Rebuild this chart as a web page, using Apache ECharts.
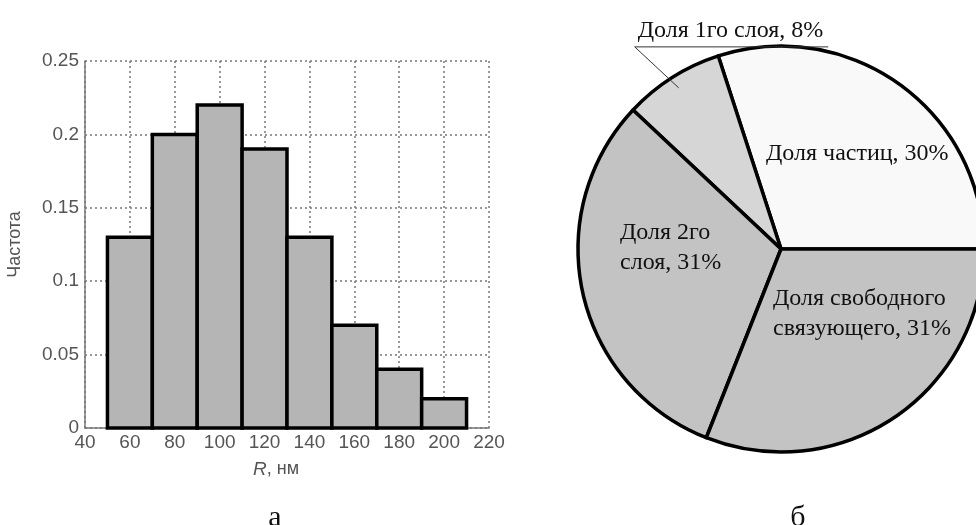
<!DOCTYPE html>
<html>
<head>
<meta charset="utf-8">
<script src="https://cdn.jsdelivr.net/npm/echarts@6/dist/echarts.min.js"></script>
<style>
  html, body { margin: 0; padding: 0; background: #ffffff; }
  #chart { width: 976px; height: 525px; }
</style>
</head>
<body>
<div id="chart"></div>
<script>
// (а) histogram of particle radius R, nm
const binStarts = [50, 70, 90, 110, 130, 150, 170, 190];
const binWidth = 20;
const frequencies = [0.13, 0.20, 0.22, 0.19, 0.13, 0.07, 0.04, 0.02];
const radiusAxis = { min: 40, max: 220, interval: 20 };
const freqAxis = { min: 0, max: 0.25, interval: 0.05 };

// (б) volume shares of the composite components
const shareNames = ['Доля частиц', 'Доля 1го слоя', 'Доля 2го\nслоя', 'Доля свободного\nсвязующего'];
const sharePercents = [30, 8, 31, 31];
const shareColors = ['#f9f9f9', '#d6d6d6', '#c3c3c3', '#c3c3c3'];

// pie geometry and label placement (px)
const pieCenter = [781, 249];
const pieRadius = 203;
const insideLabelOffsets = { 0: [-15, -95], 2: [-161, -1], 3: [-8, 65] };

const chart = echarts.init(document.getElementById('chart'), null, { renderer: 'canvas' });

const histData = binStarts.map((s, i) => [s, s + binWidth, frequencies[i]]);
const tickFont = { fontFamily: 'Liberation Sans', fontSize: 19, color: '#555' };

// shared pie layout; the second copy only carries the labels so they sit above every sector
const pieBase = {
  type: 'pie',
  center: pieCenter,
  radius: pieRadius,
  startAngle: 0,
  clockwise: false,
  avoidLabelOverlap: false,
  emphasis: { disabled: true },
  silent: true
};

const option = {
  animation: false,
  backgroundColor: '#ffffff',
  title: [
    { text: 'а', left: 270, top: 498, textAlign: 'center',
      textStyle: { fontFamily: 'Liberation Serif', fontSize: 30, fontWeight: 'normal', color: '#111' } },
    { text: 'б', left: 793, top: 498, textAlign: 'center',
      textStyle: { fontFamily: 'Liberation Serif', fontSize: 30, fontWeight: 'normal', color: '#111' } }
  ],
  grid: { left: 85, right: 487, top: 61, bottom: 97, containLabel: false },
  xAxis: {
    type: 'value',
    min: radiusAxis.min, max: radiusAxis.max, interval: radiusAxis.interval,
    name: '{i|R}, нм',
    nameLocation: 'middle',
    nameGap: 32,
    nameTextStyle: {
      fontFamily: 'Liberation Sans', fontSize: 18, color: '#555',
      padding: [0, 22, 0, 0],
      rich: { i: { fontFamily: 'Liberation Sans', fontSize: 19, color: '#555', fontStyle: 'italic' } }
    },
    axisLine: { show: true, lineStyle: { color: '#777', width: 1.5 } },
    axisTick: { show: false },
    axisLabel: Object.assign({ margin: 5 }, tickFont),
    splitLine: { show: true, lineStyle: { color: '#777', type: [2, 3], width: 1.5 } }
  },
  yAxis: {
    type: 'value',
    min: freqAxis.min, max: freqAxis.max, interval: freqAxis.interval,
    name: 'Частота',
    nameLocation: 'middle',
    nameRotate: 90,
    nameGap: 61,
    nameTextStyle: { fontFamily: 'Liberation Sans', fontSize: 18, color: '#555' },
    axisLine: { show: true, lineStyle: { color: '#777', width: 1.5 } },
    axisTick: { show: false },
    axisLabel: Object.assign({ margin: 6 }, tickFont),
    splitLine: { show: true, lineStyle: { color: '#777', type: [2, 3], width: 1.5 } }
  },
  series: [
    {
      type: 'custom',
      data: histData,
      encode: { x: [0, 1], y: 2 },
      renderItem: function (params, api) {
        const topLeft = api.coord([api.value(0), api.value(2)]);
        const bottomRight = api.coord([api.value(1), 0]);
        return {
          type: 'rect',
          shape: {
            x: topLeft[0], y: topLeft[1],
            width: bottomRight[0] - topLeft[0],
            height: bottomRight[1] - topLeft[1]
          },
          style: { fill: '#b5b5b5', stroke: '#000', lineWidth: 3.5 }
        };
      },
      z: 3
    },
    Object.assign({}, pieBase, {
      itemStyle: { borderColor: '#000', borderWidth: 3.5 },
      label: { show: false },
      labelLine: { show: false },
      data: shareNames.map((name, i) => ({
        name: name,
        value: sharePercents[i],
        itemStyle: { color: shareColors[i] }
      })),
      z: 2
    }),
    Object.assign({}, pieBase, {
      itemStyle: { color: 'rgba(0,0,0,0)', borderWidth: 0 },
      label: {
        formatter: '{b}, {c}%',
        fontFamily: 'Liberation Serif',
        fontSize: 24,
        lineHeight: 30,
        color: '#111'
      },
      labelLine: { show: true, length: 30, length2: 10, lineStyle: { color: '#333', width: 1 } },
      labelLayout: function (params) {
        const i = params.dataIndex;
        if (insideLabelOffsets[i]) {
          const off = insideLabelOffsets[i];
          return {
            x: pieCenter[0] + off[0],
            y: pieCenter[1] + off[1],
            align: 'left',
            verticalAlign: 'middle'
          };
        }
        const pts = params.labelLinePoints;
        if (!pts) return {};
        // leader starts just inside the slice, rises at 45° and underlines the text
        const start = [
          pieCenter[0] + (pts[0][0] - pieCenter[0]) * 0.94,
          pieCenter[1] + (pts[0][1] - pieCenter[1]) * 0.94
        ];
        const bend = [start[0] - 44, start[1] - 41];
        const end = [bend[0] + params.labelRect.width + 8, bend[1]];
        return {
          x: bend[0] + 3,
          y: bend[1] - 1,
          align: 'left',
          verticalAlign: 'bottom',
          labelLinePoints: [start, bend, end]
        };
      },
      data: shareNames.map((name, i) => ({
        name: name,
        value: sharePercents[i],
        label: { position: i === 1 ? 'outside' : 'inside' },
        labelLine: { show: i === 1 }
      })),
      z: 4
    })
  ]
};

chart.setOption(option);
</script>
</body>
</html>
